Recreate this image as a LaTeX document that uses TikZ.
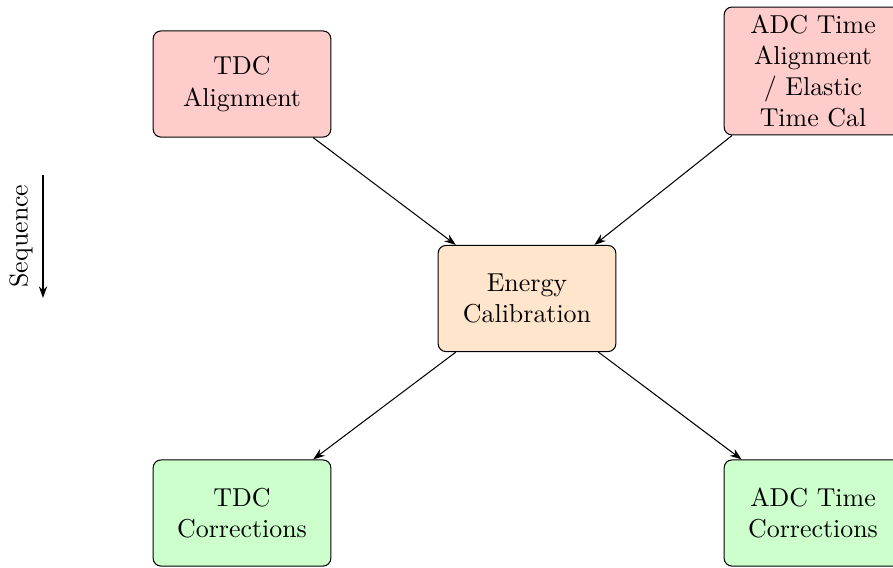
\documentclass[tikz,border=0pt]{standalone}
\usetikzlibrary{arrows.meta}
\begin{document}
\begin{tikzpicture}[x=0.3861pt,y=-0.3861pt,
  box/.style={draw, rounded corners=3pt, text width=2.2cm, align=center, inner sep=3pt, minimum height=1.44cm, font=\normalsize},
  redbox/.style={box, fill=red!20},
  orbox/.style={box, fill=orange!20},
  grbox/.style={box, fill=green!20},
  conn/.style={-{Stealth[length=4.5pt,width=3.2pt]}, thin}]
\useasboundingbox (0,0) rectangle (893,567);
\node[redbox] (tdca) at (242,84) {TDC\\Alignment};
\node[redbox] (adca) at (813,71) {ADC Time\\Alignment\\/ Elastic\\Time Cal};
\node[orbox] (ecal) at (527,298.5) {Energy\\Calibration};
\node[grbox] (tdcc) at (242,513) {TDC\\Corrections};
\node[grbox] (adcc) at (813,513) {ADC Time\\Corrections};
\draw[conn] (tdca) -- (ecal);
\draw[conn] (adca) -- (ecal);
\draw[conn] (ecal) -- (tdcc);
\draw[conn] (ecal) -- (adcc);
\coordinate (s1) at (43,175);
\coordinate (s2) at (43,298);
\draw[conn] (s1) -- (s2);
\node[rotate=90] (seq) at (21,236) {Sequence};
\end{tikzpicture}
\end{document}
